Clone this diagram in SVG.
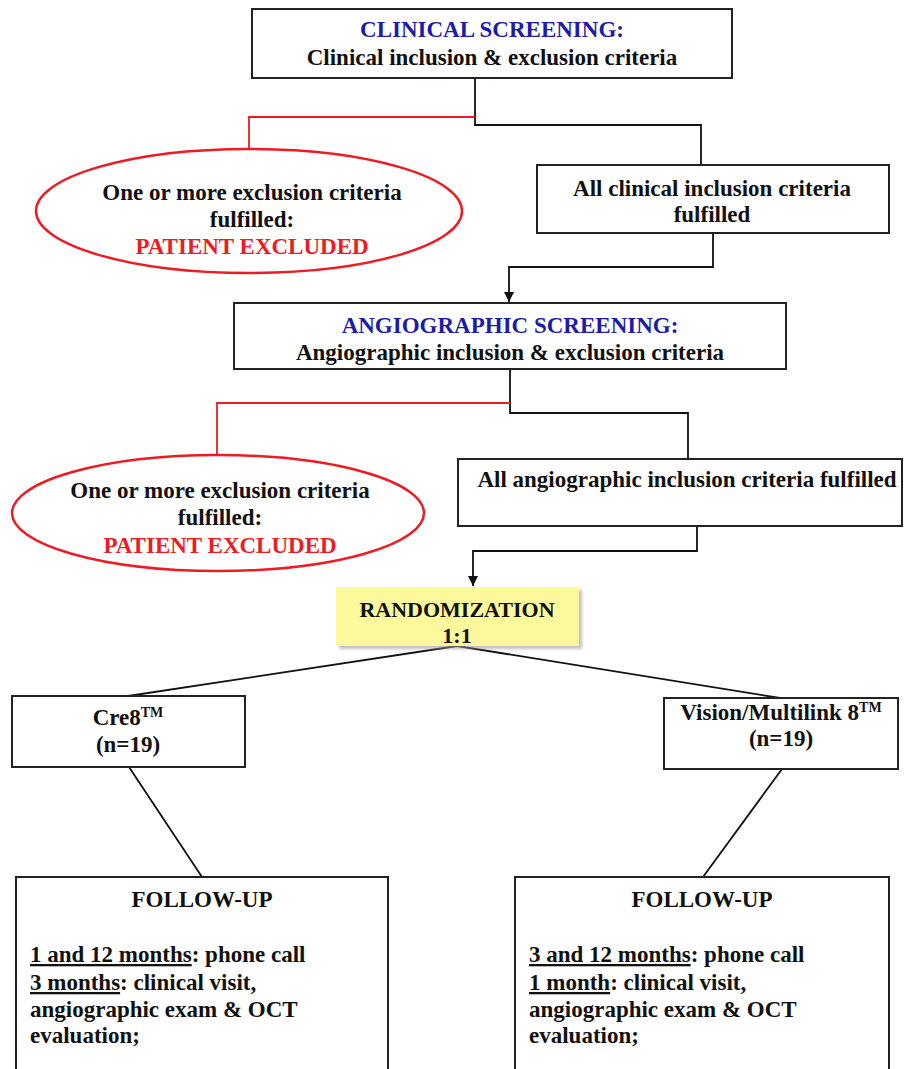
<svg xmlns="http://www.w3.org/2000/svg" width="904" height="1069" viewBox="0 0 904 1069">
<style>
text{font-family:"Liberation Serif","Times New Roman",serif;font-weight:bold;font-size:23px;fill:#111}
.c{text-anchor:middle}
.blue{fill:#1c1ca8}
.red{fill:#ed1c24}
.box{fill:#fff;stroke:#222;stroke-width:2}
.ell{fill:#fff;stroke:#ed1c24;stroke-width:2.5}
.ln{fill:none;stroke:#111;stroke-width:1.8}
.rl{fill:none;stroke:#ed1c24;stroke-width:1.8}
.u{text-decoration:underline}
.sup{font-size:14px}
</style>
<defs>
<marker id="arr" viewBox="0 0 10 10" refX="10" refY="5" markerWidth="10" markerHeight="10" markerUnits="userSpaceOnUse" orient="auto">
<path d="M0,0 L10,5 L0,10 z" fill="#111"/>
</marker>
<filter id="sh" x="-10%" y="-10%" width="130%" height="140%">
<feGaussianBlur stdDeviation="1.5"/>
</filter>
</defs>
<g id="connectors">
<polyline class="ln" points="475,78 475,125 701,125 701,165"/>
<polyline class="rl" points="475,117 249,117 249,149"/>
<polyline class="ln" points="713,233 713,267 509,267 509,302" marker-end="url(#arr)"/>
<polyline class="ln" points="510,369 510,413 688,413 688,459"/>
<polyline class="rl" points="510,403 217,403 217,455"/>
<polyline class="ln" points="697,526 697,551 473,551 473,586" marker-end="url(#arr)"/>
<line class="ln" x1="457" y1="646" x2="128" y2="696"/>
<line class="ln" x1="457" y1="646" x2="780" y2="698"/>
<line class="ln" x1="129" y1="767" x2="202" y2="877"/>
<line class="ln" x1="782" y1="769" x2="703" y2="877"/>
</g>
<g id="clinical-screening">
<rect class="box" x="252" y="9" width="480" height="69"/>
<text class="c blue" x="492" y="37">CLINICAL SCREENING:</text>
<text class="c" x="492" y="65">Clinical inclusion &amp; exclusion criteria</text>
</g>
<g id="excluded-1">
<ellipse class="ell" cx="249" cy="211" rx="213" ry="62"/>
<text class="c" x="252" y="200">One or more exclusion criteria</text>
<text class="c" x="252" y="227">fulfilled:</text>
<text class="c red" x="252" y="254">PATIENT EXCLUDED</text>
</g>
<g id="clinical-ok">
<rect class="box" x="537" y="165" width="352" height="68"/>
<text class="c" x="712" y="196">All clinical inclusion criteria</text>
<text class="c" x="712" y="222">fulfilled</text>
</g>
<g id="angio-screening">
<rect class="box" x="234" y="303" width="552" height="66"/>
<text class="c blue" x="510" y="333">ANGIOGRAPHIC SCREENING:</text>
<text class="c" x="510" y="360">Angiographic inclusion &amp; exclusion criteria</text>
</g>
<g id="excluded-2">
<ellipse class="ell" cx="218" cy="513" rx="206" ry="58"/>
<text class="c" x="220" y="498">One or more exclusion criteria</text>
<text class="c" x="220" y="525">fulfilled:</text>
<text class="c red" x="220" y="553">PATIENT EXCLUDED</text>
</g>
<g id="angio-ok">
<rect class="box" x="458" y="459" width="444" height="67"/>
<text class="c" x="687" y="487">All angiographic inclusion criteria  fulfilled</text>
</g>
<g id="randomization">
<rect x="339" y="590" width="243" height="59" fill="#999" opacity="0.6" filter="url(#sh)"/>
<rect x="336" y="587" width="243" height="59" fill="#fbf99c"/>
<text class="c" x="457" y="617" style="font-size:22px">RANDOMIZATION</text>
<text class="c" x="457" y="643" style="font-size:22px">1:1</text>
</g>
<g id="cre8">
<rect class="box" x="12" y="696" width="233" height="71"/>
<text class="c" x="128" y="725">Cre8<tspan class="sup" dy="-8">TM</tspan></text>
<text class="c" x="128" y="752">(n=19)</text>
</g>
<g id="vision">
<rect class="box" x="664" y="698" width="234" height="71"/>
<text class="c" x="781" y="720">Vision/Multilink 8<tspan class="sup" dy="-8">TM</tspan></text>
<text class="c" x="781" y="746">(n=19)</text>
</g>
<g id="followup-left">
<rect class="box" x="16" y="877" width="372" height="200"/>
<text class="c" x="202" y="907">FOLLOW-UP</text>
<text x="30" y="962"><tspan class="u">1 and 12 months</tspan>: phone call</text>
<text x="30" y="990"><tspan class="u">3 months</tspan>: clinical visit,</text>
<text x="30" y="1017">angiographic exam &amp; OCT</text>
<text x="30" y="1043">evaluation;</text>
</g>
<g id="followup-right">
<rect class="box" x="515" y="877" width="374" height="200"/>
<text class="c" x="702" y="907">FOLLOW-UP</text>
<text x="529" y="962"><tspan class="u">3 and 12 months</tspan>: phone call</text>
<text x="529" y="990"><tspan class="u">1 month</tspan>: clinical visit,</text>
<text x="529" y="1017">angiographic exam &amp; OCT</text>
<text x="529" y="1043">evaluation;</text>
</g>
</svg>
